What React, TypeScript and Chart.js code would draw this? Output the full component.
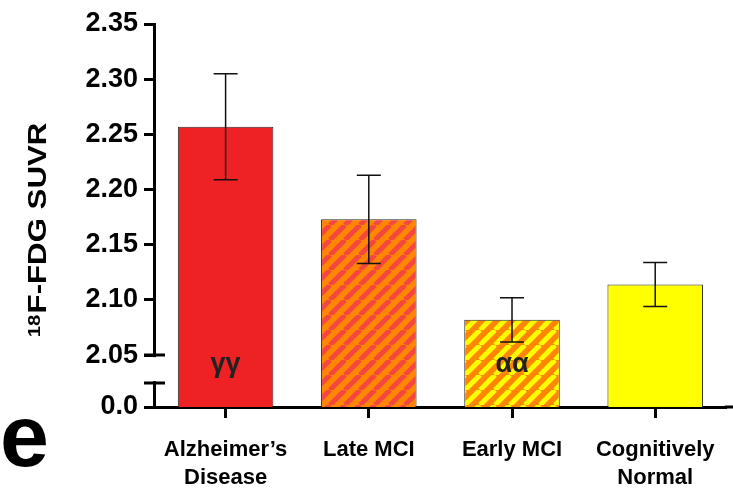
import React, { useEffect, useRef } from 'react';
import { Chart, registerables } from 'chart.js';

Chart.register(...registerables);

const categories: (string | string[])[] = [["Alzheimer’s", "Disease"], "Late MCI", "Early MCI", ["Cognitively", "Normal"]];
const means = [2.257, 2.173, 2.082, 2.114];
const sems = [0.048, 0.040, 0.020, 0.020];
const markers = ["γγ", "", "αα", ""];
const yTicks = [2.05, 2.10, 2.15, 2.20, 2.25, 2.30, 2.35];
const yBreakBase = 2.003;
const yBaseLabel = "0.0";
const yTitleSup = "18";
const yTitleMain = "F-FDG SUVR";
const panelLetter = "e";

const FONT = '"Liberation Sans", Arial, Helvetica, sans-serif';

function makeStripes(ctx: CanvasRenderingContext2D, base: string, stripe: string) {
  const s = 15;
  const c = document.createElement('canvas');
  c.width = s; c.height = s;
  const g = c.getContext('2d')!;
  g.fillStyle = base;
  g.fillRect(0, 0, s, s);
  g.strokeStyle = stripe;
  g.lineWidth = 5;
  for (const k of [-1, 0, 1]) {
    g.beginPath();
    g.moveTo(k * s, s);
    g.lineTo(k * s + s, 0);
    g.stroke();
  }
  return ctx.createPattern(c, 'repeat')!;
}

const overlay = {
  id: 'overlay',
  afterDatasetsDraw(chart: any) {
    const { ctx, chartArea, scales: { x, y } } = chart;
    ctx.save();
    ctx.strokeStyle = '#111';
    ctx.lineWidth = 1.5;
    means.forEach((m, i) => {
      const cx = x.getPixelForValue(i);
      const t = y.getPixelForValue(m + sems[i]);
      const b = y.getPixelForValue(m - sems[i]);
      ctx.beginPath();
      ctx.moveTo(cx, t); ctx.lineTo(cx, b);
      ctx.moveTo(cx - 12, t); ctx.lineTo(cx + 12, t);
      ctx.moveTo(cx - 12, b); ctx.lineTo(cx + 12, b);
      ctx.stroke();
    });
    ctx.fillStyle = '#222';
    ctx.font = `bold 27px ${FONT}`;
    ctx.textAlign = 'center';
    ctx.textBaseline = 'alphabetic';
    markers.forEach((t, i) => {
      if (!t) return;
      ctx.fillText(t, x.getPixelForValue(i), chartArea.bottom - 35);
    });
    ctx.restore();
  },
  afterDraw(chart: any) {
    const { ctx, chartArea, scales: { y } } = chart;
    const ax = chartArea.left;
    const yb = y.getPixelForValue(yTicks[0]);
    ctx.save();
    // axis break
    ctx.fillStyle = '#fff';
    ctx.fillRect(ax - 5, yb + 2, 10, 24);
    ctx.strokeStyle = '#000';
    ctx.lineWidth = 3;
    ctx.beginPath();
    ctx.moveTo(ax - 10, yb); ctx.lineTo(ax + 11, yb);
    ctx.moveTo(ax - 10, yb + 28); ctx.lineTo(ax + 11, yb + 28);
    ctx.moveTo(chartArea.right - 2, chartArea.bottom); ctx.lineTo(chart.width, chartArea.bottom);
    ctx.stroke();
    // y title
    ctx.fillStyle = '#000';
    ctx.translate(46, 230);
    ctx.rotate(-Math.PI / 2);
    ctx.scale(1.2, 1);
    ctx.font = `bold 26px ${FONT}`;
    const w1 = ctx.measureText(yTitleMain).width;
    ctx.font = `bold 17px ${FONT}`;
    const w0 = ctx.measureText(yTitleSup).width;
    const total = w0 + w1 + 1;
    const u = -total / 2;
    ctx.textAlign = 'left';
    ctx.textBaseline = 'alphabetic';
    ctx.fillText(yTitleSup, u, -6);
    ctx.font = `bold 26px ${FONT}`;
    ctx.fillText(yTitleMain, u + w0 + 1, 0);
    ctx.restore();
    // panel letter
    ctx.save();
    ctx.fillStyle = '#000';
    ctx.font = `bold 88px ${FONT}`;
    ctx.textAlign = 'left';
    ctx.textBaseline = 'alphabetic';
    ctx.fillText(panelLetter, 0, 466);
    ctx.restore();
  },
};

export default function App() {
  const ref = useRef<HTMLCanvasElement>(null);
  useEffect(() => {
    const canvas = ref.current!;
    const ctx = canvas.getContext('2d')!;
    const lateFill = makeStripes(ctx, '#FF8600', '#F4473F');
    const earlyFill = makeStripes(ctx, '#FF8600', '#FFFF00');
    const chart = new Chart(canvas, {
      type: 'bar',
      data: {
        labels: categories as any,
        datasets: [{
          data: means,
          backgroundColor: ['#EE2125', lateFill, earlyFill, '#FFFF00'] as any,
          borderColor: '#2a2a2a',
          borderWidth: 1,
          categoryPercentage: 1,
          barPercentage: 0.667,
        }],
      },
      options: {
        animation: false,
        responsive: false,
        layout: { padding: { top: 24, right: 4, left: 0, bottom: 0 } },
        plugins: { legend: { display: false }, tooltip: { enabled: false } },
        scales: {
          x: {
            grid: { drawOnChartArea: false, drawTicks: true, tickLength: 11, tickWidth: 3, tickColor: '#000', offset: false },
            border: { display: true, width: 3, color: '#000' },
            ticks: {
              color: '#000',
              font: { family: FONT, size: 22, weight: 'bold', lineHeight: 1.27 },
              padding: 18,
              maxRotation: 0,
              autoSkip: false,
            },
            afterFit: (s: any) => { s.height = 84; },
          },
          y: {
            min: yBreakBase,
            max: 2.35,
            afterBuildTicks: (s: any) => { s.ticks = [yBreakBase, ...yTicks].map((v) => ({ value: v })); },
            ticks: {
              callback: (v: any) => (v === yBreakBase ? yBaseLabel : Number(v).toFixed(2)),
              color: '#000',
              font: { family: FONT, size: 27, weight: 'bold' },
              padding: 6,
              autoSkip: false,
            },
            grid: { drawOnChartArea: false, drawTicks: true, tickLength: 10, tickWidth: 3, tickColor: '#000' },
            border: { display: true, width: 3, color: '#000' },
            afterFit: (s: any) => { s.width = 154; },
          },
        },
      } as any,
      plugins: [overlay],
    });
    return () => chart.destroy();
  }, []);
  return (
    <div style={{ position: 'absolute', left: 0, top: 0, width: 733, height: 491, background: '#fff' }}>
      <canvas ref={ref} width={733} height={491} style={{ display: 'block' }} />
    </div>
  );
}
